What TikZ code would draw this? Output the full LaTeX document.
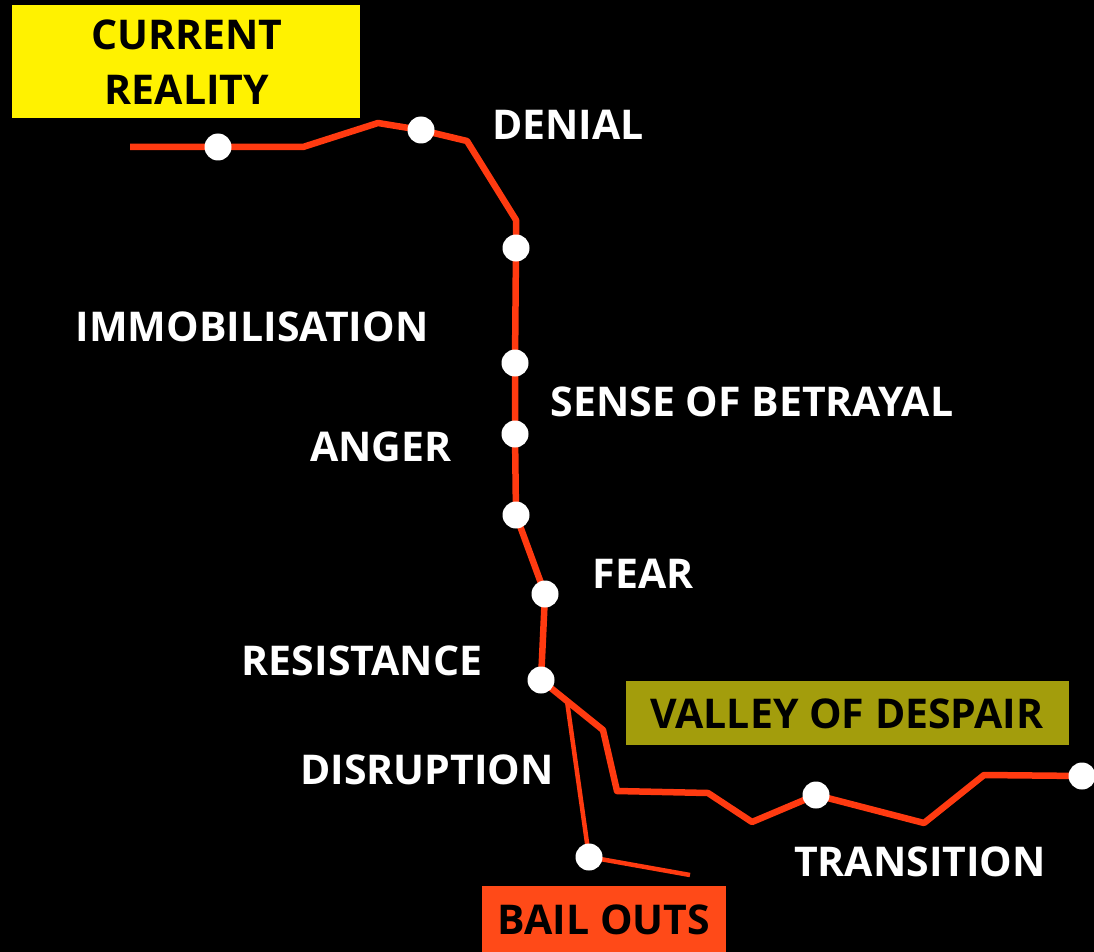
\documentclass[tikz,border=0pt]{standalone}
\usepackage{fontspec}
\setmainfont{Open Sans}
\definecolor{linered}{HTML}{FF3A10}
\definecolor{boxyellow}{HTML}{FFF200}
\definecolor{boxolive}{HTML}{A39D0C}
\definecolor{boxred}{HTML}{FF4A18}
\begin{document}
\begin{tikzpicture}[x=1pt,y=-1pt,
  dot/.style={circle,fill=white,inner sep=0pt,minimum size=27pt},
  lbl/.style={text=white,font=\bfseries\fontsize{41}{48}\selectfont,inner sep=0pt},
  boxlbl/.style={text=black,font=\bfseries\fontsize{41}{55}\selectfont,align=center,inner sep=0pt},
  curve/.style={draw=linered,line width=6.5pt,line join=round}]
\fill[black] (0,0) rectangle (1094,952);
\useasboundingbox (0,0) rectangle (1094,952);
% boxes
\fill[boxyellow] (12,5) rectangle (360,118);
\node[boxlbl] (cr) at (187,62) {CURRENT\\REALITY};
\fill[boxolive] (626,681) rectangle (1069,745);
\node[boxlbl] (vd) at (847,714) {VALLEY OF DESPAIR};
\fill[boxred] (482,886) rectangle (726,952);
\node[boxlbl] (bo) at (604,920) {BAIL OUTS};
% path points
\coordinate (s0) at (130,147);
\coordinate (p1) at (218,147);
\coordinate (b1) at (303,147);
\coordinate (b2) at (378,123);
\coordinate (p2) at (421,130);
\coordinate (b3) at (467,141);
\coordinate (b4) at (516,220);
\coordinate (p3) at (516,248);
\coordinate (p4) at (515,363);
\coordinate (p5) at (515,434);
\coordinate (p6) at (516,515);
\coordinate (p7) at (545,594);
\coordinate (p8) at (541,680);
\coordinate (br) at (567,701);
\coordinate (b5) at (603,730);
\coordinate (b6) at (617,791);
\coordinate (b7) at (708,793);
\coordinate (b8) at (752,822);
\coordinate (p9) at (816,795);
\coordinate (b9) at (924,823);
\coordinate (b10) at (984,775);
\coordinate (p10) at (1082,776);
\coordinate (p11) at (589,857);
\coordinate (e1) at (690,875);
\draw[curve] (s0) -- (p1) -- (b1) -- (b2) -- (p2) -- (b3) -- (b4) -- (p3) -- (p4) -- (p5) -- (p6) -- (p7) -- (p8) -- (br) -- (b5) -- (b6) -- (b7) -- (b8) -- (p9) -- (b9) -- (b10) -- (p10);
\draw[curve,line width=4.5pt] (br) -- (p11) -- (e1);
\foreach \p in {p1,p2,p3,p4,p5,p6,p7,p8,p9,p10,p11}
  \node[dot] (d\p) at (\p) {};
% labels
\node[lbl] (l1) at (568,125) {DENIAL};
\node[lbl] (l2) at (252,327) {IMMOBILISATION};
\node[lbl] (l3) at (752,402) {SENSE OF BETRAYAL};
\node[lbl] (l4) at (381,447) {ANGER};
\node[lbl] (l5) at (643,574) {FEAR};
\node[lbl] (l6) at (362,661) {RESISTANCE};
\node[lbl] (l7) at (427,770) {DISRUPTION};
\node[lbl] (l8) at (920,862) {TRANSITION};
\end{tikzpicture}
\end{document}
